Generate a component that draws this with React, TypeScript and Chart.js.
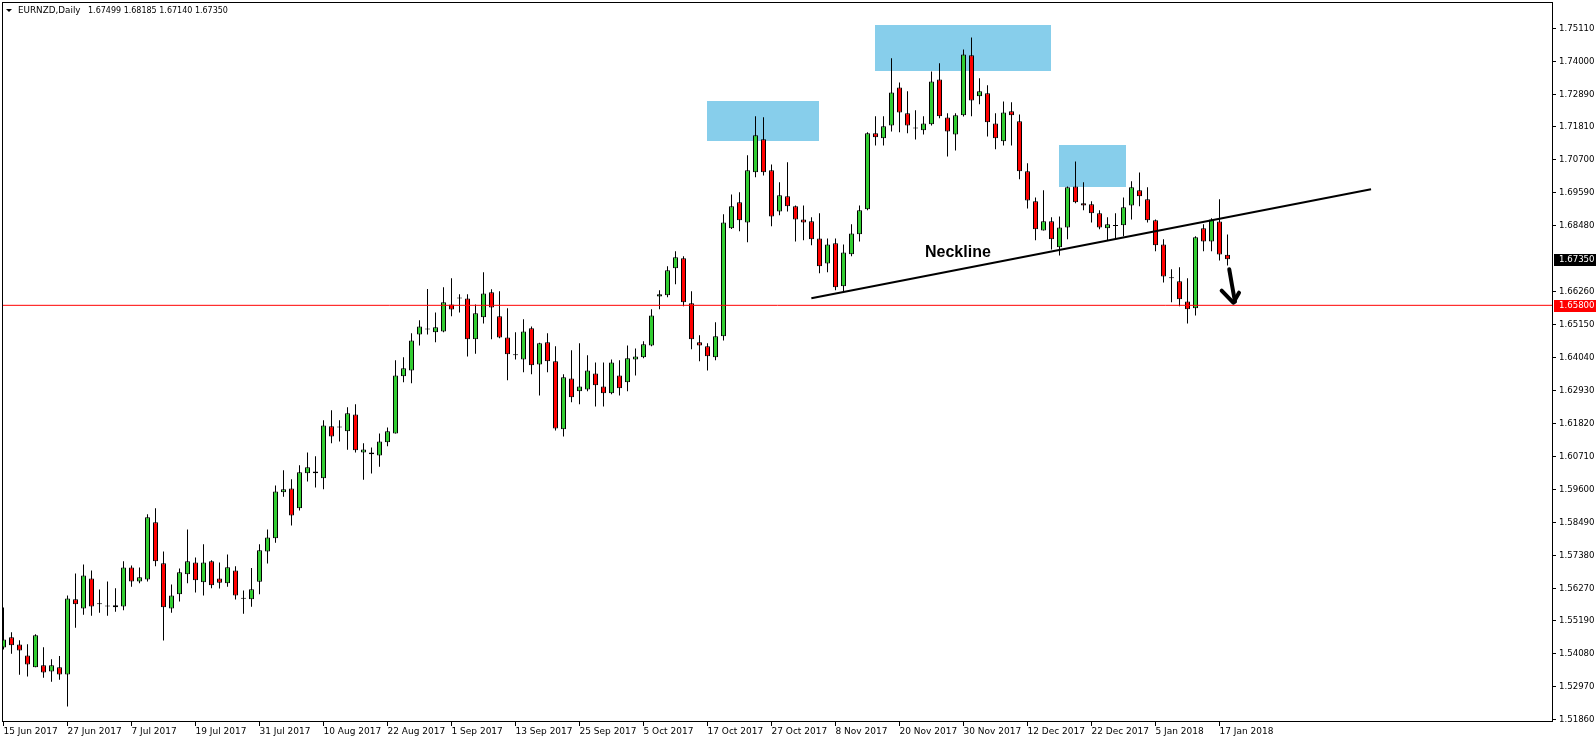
import React, { useEffect, useRef } from 'react';
import { Chart, registerables } from 'chart.js';

Chart.register(...registerables);

const symbolLabel = 'EURNZD,Daily';

const dateTickIndex = [0, 8, 16, 24, 32, 40, 48, 56, 64, 72, 80, 88, 96, 104, 112, 120, 128, 136, 144, 152];
const dateTickLabels = [
  '15 Jun 2017', '27 Jun 2017', '7 Jul 2017', '19 Jul 2017', '31 Jul 2017', '10 Aug 2017', '22 Aug 2017',
  '1 Sep 2017', '13 Sep 2017', '25 Sep 2017', '5 Oct 2017', '17 Oct 2017', '27 Oct 2017', '8 Nov 2017',
  '20 Nov 2017', '30 Nov 2017', '12 Dec 2017', '22 Dec 2017', '5 Jan 2018', '17 Jan 2018',
];

const opens = [
  1.5429, 1.5463, 1.5439, 1.5402, 1.5362, 1.5369, 1.5348, 1.5362, 1.5338, 1.5591,
  1.5560, 1.5661, 1.5575, 1.5567, 1.5564, 1.5567, 1.5698, 1.5651, 1.5658, 1.5850,
  1.5712, 1.5560, 1.5608, 1.5675, 1.5715, 1.5648, 1.5719, 1.5661, 1.5645, 1.5688,
  1.5593, 1.5591, 1.5650, 1.5752, 1.5796, 1.5951, 1.5964, 1.5897, 1.6015, 1.6021,
  1.5998, 1.6173, 1.6169, 1.6156, 1.6213, 1.6085, 1.6085, 1.6075, 1.6119, 1.6149,
  1.6341, 1.6361, 1.6482, 1.6499, 1.6489, 1.6492, 1.6583, 1.6603, 1.6603, 1.6466,
  1.6540, 1.6624, 1.6543, 1.6472, 1.6412, 1.6398, 1.6503, 1.6381, 1.6456, 1.6392,
  1.6163, 1.6334, 1.6291, 1.6297, 1.6351, 1.6307, 1.6284, 1.6344, 1.6321, 1.6398,
  1.6405, 1.6445, 1.6610, 1.6614, 1.6705, 1.6738, 1.6587, 1.6456, 1.6442, 1.6405,
  1.6476, 1.6839, 1.6927, 1.6859, 1.7028, 1.7139, 1.7034, 1.6896, 1.6947, 1.6913,
  1.6869, 1.6863, 1.6805, 1.6721, 1.6789, 1.6644, 1.6752, 1.6819, 1.6903, 1.7159,
  1.7142, 1.7185, 1.7313, 1.7226, 1.7175, 1.7169, 1.7189, 1.7340, 1.7212, 1.7155,
  1.7219, 1.7421, 1.7283, 1.7293, 1.7192, 1.7132, 1.7233, 1.7199, 1.7031, 1.6930,
  1.6832, 1.6863, 1.6775, 1.6842, 1.6980, 1.6923, 1.6920, 1.6890, 1.6839, 1.6847,
  1.6849, 1.6916, 1.6967, 1.6937, 1.6866, 1.6785, 1.6671, 1.6661, 1.6593, 1.6570,
  1.6839, 1.6795, 1.6862, 1.67499,
];

const highs = [
  1.5563, 1.5480, 1.5453, 1.5440, 1.5473, 1.5430, 1.5389, 1.5400, 1.5604, 1.5678,
  1.5708, 1.5688, 1.5624, 1.5651, 1.5628, 1.5719, 1.5705, 1.5698, 1.5877, 1.5897,
  1.5752, 1.5641, 1.5695, 1.5826, 1.5732, 1.5776, 1.5722, 1.5715, 1.5742, 1.5702,
  1.5621, 1.5696, 1.5776, 1.5826, 1.5974, 1.6025, 1.5995, 1.6042, 1.6085, 1.6072,
  1.6193, 1.6227, 1.6193, 1.6237, 1.6247, 1.6116, 1.6102, 1.6149, 1.6169, 1.6395,
  1.6405, 1.6486, 1.6530, 1.6635, 1.6556, 1.6641, 1.6671, 1.6617, 1.6617, 1.6583,
  1.6691, 1.6634, 1.6627, 1.6570, 1.6489, 1.6533, 1.6509, 1.6454, 1.6486, 1.6442,
  1.6348, 1.6429, 1.6452, 1.6412, 1.6388, 1.6388, 1.6398, 1.6395, 1.6445, 1.6435,
  1.6459, 1.6567, 1.6631, 1.6711, 1.6762, 1.6745, 1.6627, 1.6479, 1.6452, 1.6523,
  1.6886, 1.6953, 1.6960, 1.7085, 1.7216, 1.7213, 1.7054, 1.6994, 1.7061, 1.6916,
  1.6916, 1.6876, 1.6890, 1.6805, 1.6805, 1.6785, 1.6853, 1.6916, 1.7162, 1.7216,
  1.7216, 1.7411, 1.7330, 1.7300, 1.7236, 1.7216, 1.7367, 1.7394, 1.7226, 1.7226,
  1.7441, 1.7481, 1.7344, 1.7320, 1.7226, 1.7266, 1.7263, 1.7222, 1.7058, 1.6943,
  1.6967, 1.6876, 1.6879, 1.6980, 1.7064, 1.6994, 1.6930, 1.6900, 1.6876, 1.6890,
  1.6943, 1.6997, 1.7027, 1.6977, 1.6869, 1.6802, 1.6701, 1.6708, 1.6671, 1.6812,
  1.6853, 1.6873, 1.6937, 1.68185,
];

const lows = [
  1.5422, 1.5408, 1.5337, 1.5331, 1.5362, 1.5327, 1.5314, 1.5320, 1.5230, 1.5495,
  1.5539, 1.5536, 1.5546, 1.5536, 1.5549, 1.5554, 1.5633, 1.5645, 1.5651, 1.5702,
  1.5452, 1.5546, 1.5584, 1.5645, 1.5614, 1.5604, 1.5628, 1.5627, 1.5633, 1.5590,
  1.5542, 1.5566, 1.5608, 1.5711, 1.5781, 1.5936, 1.5839, 1.5890, 1.5987, 1.5967,
  1.5961, 1.6116, 1.6122, 1.6094, 1.6085, 1.5993, 1.6014, 1.6037, 1.6106, 1.6149,
  1.6321, 1.6318, 1.6445, 1.6482, 1.6456, 1.6489, 1.6543, 1.6556, 1.6408, 1.6417,
  1.6519, 1.6466, 1.6469, 1.6328, 1.6398, 1.6355, 1.6348, 1.6277, 1.6355, 1.6159,
  1.6139, 1.6254, 1.6247, 1.6291, 1.6240, 1.6240, 1.6281, 1.6277, 1.6291, 1.6344,
  1.6402, 1.6442, 1.6567, 1.6607, 1.6651, 1.6577, 1.6432, 1.6392, 1.6361, 1.6395,
  1.6462, 1.6837, 1.6829, 1.6792, 1.7011, 1.7017, 1.6846, 1.6883, 1.6896, 1.6795,
  1.6799, 1.6782, 1.6688, 1.6691, 1.6631, 1.6627, 1.6745, 1.6795, 1.6900, 1.7118,
  1.7118, 1.7165, 1.7162, 1.7159, 1.7138, 1.7155, 1.7185, 1.7209, 1.7081, 1.7101,
  1.7215, 1.7216, 1.7256, 1.7148, 1.7105, 1.7118, 1.7118, 1.7004, 1.6906, 1.6799,
  1.6832, 1.6768, 1.6748, 1.6802, 1.6923, 1.6900, 1.6859, 1.6836, 1.6799, 1.6802,
  1.6812, 1.6869, 1.6913, 1.6859, 1.6762, 1.6657, 1.6590, 1.6577, 1.6519, 1.6546,
  1.6762, 1.6762, 1.6731, 1.67140,
];

const closes = [
  1.5456, 1.5436, 1.5419, 1.5372, 1.5470, 1.5345, 1.5369, 1.5338, 1.5594, 1.5574,
  1.5671, 1.5567, 1.5574, 1.5567, 1.5571, 1.5698, 1.5651, 1.5665, 1.5867, 1.5719,
  1.5564, 1.5604, 1.5682, 1.5719, 1.5655, 1.5715, 1.5638, 1.5647, 1.5699, 1.5604,
  1.5593, 1.5625, 1.5756, 1.5799, 1.5954, 1.5961, 1.5873, 1.6018, 1.6035, 1.6015,
  1.6176, 1.6139, 1.6169, 1.6217, 1.6092, 1.6095, 1.6079, 1.6122, 1.6156, 1.6344,
  1.6368, 1.6462, 1.6509, 1.6499, 1.6506, 1.6590, 1.6566, 1.6603, 1.6466, 1.6553,
  1.6620, 1.6573, 1.6472, 1.6415, 1.6412, 1.6492, 1.6378, 1.6452, 1.6392, 1.6166,
  1.6338, 1.6271, 1.6307, 1.6361, 1.6311, 1.6284, 1.6388, 1.6301, 1.6402, 1.6408,
  1.6449, 1.6546, 1.6617, 1.6698, 1.6742, 1.6590, 1.6466, 1.6445, 1.6409, 1.6476,
  1.6859, 1.6913, 1.6866, 1.7034, 1.7152, 1.7028, 1.6879, 1.6950, 1.6913, 1.6869,
  1.6859, 1.6802, 1.6711, 1.6785, 1.6641, 1.6758, 1.6822, 1.6900, 1.7159, 1.7145,
  1.7182, 1.7296, 1.7229, 1.7185, 1.7175, 1.7192, 1.7333, 1.7216, 1.7165, 1.7219,
  1.7424, 1.7269, 1.7300, 1.7196, 1.7142, 1.7229, 1.7219, 1.7031, 1.6933, 1.6836,
  1.6863, 1.6802, 1.6842, 1.6977, 1.6927, 1.6916, 1.6890, 1.6842, 1.6853, 1.6847,
  1.6910, 1.6977, 1.6947, 1.6866, 1.6782, 1.6677, 1.6671, 1.6600, 1.6567, 1.6809,
  1.6795, 1.6869, 1.6751, 1.67350,
];

const priceTicks = [
  1.7511, 1.74, 1.7289, 1.7181, 1.707, 1.6959, 1.6848, 1.6626, 1.6515, 1.6404, 1.6293,
  1.6182, 1.6071, 1.596, 1.5849, 1.5738, 1.5627, 1.5519, 1.5408, 1.5297, 1.5186,
];

const supportLevel = 1.658;

// supply zones (bar index / price)
const zoneStart = [87.94, 108.94, 131.94];
const zoneEnd = [101.94, 130.88, 140.31];
const zoneLow = [1.7134, 1.73666, 1.69797];
const zoneHigh = [1.7268, 1.7523, 1.71193];

const necklineX = [100.98, 170.94];
const necklineY = [1.66039, 1.69702];
const necklineLabel = 'Neckline';
const necklineLabelX = 115.19;
const necklineLabelY = 1.67435;

const arrowShaftX = [153.22, 153.56, 153.94];
const arrowShaftY = [1.67011, 1.66483, 1.65921];
const arrowHeadX = [152.27, 153.72, 154.44];
const arrowHeadY = [1.66291, 1.65887, 1.66224];

const xMin = -0.1875;
const xMax = 193.6875;
const yMin = 1.51782;
const yMax = 1.76004;

const FONT = 'Tahoma, "DejaVu Sans", sans-serif';
const AXIS_FONT_SIZE = 8.6;

const overlayPlugin = {
  id: 'mt4Overlay',
  beforeDatasetsDraw(chart: any) {
    const { ctx, chartArea, scales } = chart;
    const x = scales.x;
    const y = scales.y;
    ctx.save();
    ctx.beginPath();
    ctx.rect(chartArea.left, chartArea.top, chartArea.right - chartArea.left, chartArea.bottom - chartArea.top);
    ctx.clip();
    ctx.fillStyle = '#87CEEB';
    for (let i = 0; i < zoneStart.length; i++) {
      const x0 = Math.round(x.getPixelForValue(zoneStart[i]));
      const x1 = Math.round(x.getPixelForValue(zoneEnd[i]));
      const y0 = Math.round(y.getPixelForValue(zoneHigh[i]));
      const y1 = Math.round(y.getPixelForValue(zoneLow[i]));
      ctx.fillRect(x0, y0, x1 - x0, y1 - y0);
    }
    ctx.restore();
  },
  afterDatasetsDraw(chart: any) {
    const { ctx, scales } = chart;
    ctx.save();
    ctx.font = 'bold 16px Arial, "Liberation Sans", sans-serif';
    ctx.fillStyle = '#000000';
    ctx.textAlign = 'left';
    ctx.textBaseline = 'alphabetic';
    ctx.fillText(necklineLabel, scales.x.getPixelForValue(necklineLabelX), scales.y.getPixelForValue(necklineLabelY));
    ctx.restore();
  },
  afterDraw(chart: any) {
    const { ctx, chartArea, scales, width } = chart;
    const y = scales.y;
    ctx.save();
    // frame
    ctx.strokeStyle = '#000000';
    ctx.lineWidth = 1;
    ctx.strokeRect(chartArea.left + 0.5, chartArea.top + 0.5, chartArea.right - chartArea.left - 1, chartArea.bottom - chartArea.top - 1);

    // title
    ctx.fillStyle = '#000000';
    ctx.beginPath();
    ctx.moveTo(chartArea.left + 4, 9);
    ctx.lineTo(chartArea.left + 10, 9);
    ctx.lineTo(chartArea.left + 7, 12);
    ctx.closePath();
    ctx.fill();
    const last = opens.length - 1;
    const ohlc = [opens[last], highs[last], lows[last], closes[last]].map((v) => v.toFixed(5)).join(' ');
    ctx.textBaseline = 'middle';
    ctx.textAlign = 'left';
    ctx.font = '8.8px ' + FONT;
    ctx.fillText(symbolLabel, chartArea.left + 16, 11);
    ctx.font = '8px ' + FONT;
    ctx.fillText(ohlc, chartArea.left + 86, 11);

    // price boxes
    ctx.font = AXIS_FONT_SIZE + 'px ' + FONT;
    const boxes = [
      { v: closes[last], bg: '#000000' },
      { v: supportLevel, bg: '#FF0000' },
    ];
    for (const b of boxes) {
      const py = Math.round(y.getPixelForValue(b.v));
      ctx.fillStyle = b.bg;
      ctx.fillRect(chartArea.right + 1, py - 5, width - chartArea.right - 1, 12);
      ctx.fillStyle = '#FFFFFF';
      ctx.fillText(b.v.toFixed(5), chartArea.right + 6, py + 0.5);
    }
    ctx.restore();
  },
};

export default function App() {
  const ref = useRef<HTMLCanvasElement>(null);

  useEffect(() => {
    document.body.style.margin = '0';
    const canvas = ref.current;
    if (!canvas) return;
    const idx = opens.map((_, i) => i);
    const chart = new Chart(canvas, {
      type: 'bar',
      data: {
        datasets: [
          {
            type: 'bar',
            label: 'wick',
            data: idx.map((i) => ({ x: i, y: [lows[i], highs[i]] })),
            backgroundColor: '#000000',
            borderWidth: 0,
            barThickness: 1,
            grouped: false,
            inflateAmount: 0,
            order: 6,
          },
          {
            type: 'bar',
            label: 'body',
            data: idx.map((i) => ({ x: i, y: [opens[i], closes[i]] })),
            backgroundColor: idx.map((i) => (closes[i] >= opens[i] ? '#32CD32' : '#FF0000')),
            borderColor: '#000000',
            borderWidth: 1,
            borderSkipped: false,
            barThickness: 5,
            minBarLength: 1,
            grouped: false,
            inflateAmount: 0,
            order: 5,
          },
          {
            type: 'line',
            label: 'level',
            data: [{ x: xMin, y: supportLevel }, { x: xMax, y: supportLevel }],
            borderColor: '#FF0000',
            borderWidth: 1,
            pointRadius: 0,
            order: 3,
          },
          {
            type: 'line',
            label: 'neckline',
            data: necklineX.map((v, i) => ({ x: v, y: necklineY[i] })),
            borderColor: '#000000',
            borderWidth: 2,
            pointRadius: 0,
            order: 2,
          },
          {
            type: 'line',
            label: 'arrowShaft',
            data: arrowShaftX.map((v, i) => ({ x: v, y: arrowShaftY[i] })),
            borderColor: '#000000',
            borderWidth: 4,
            borderCapStyle: 'round',
            borderJoinStyle: 'round',
            tension: 0.3,
            pointRadius: 0,
            clip: false,
            order: 1,
          },
          {
            type: 'line',
            label: 'arrowHead',
            data: arrowHeadX.map((v, i) => ({ x: v, y: arrowHeadY[i] })),
            borderColor: '#000000',
            borderWidth: 4,
            borderCapStyle: 'round',
            borderJoinStyle: 'round',
            pointRadius: 0,
            clip: false,
            order: 0,
          },
        ],
      } as any,
      options: {
        responsive: false,
        animation: false,
        devicePixelRatio: 1,
        events: [],
        layout: { padding: { left: 2, top: 2, right: 0, bottom: 0 } },
        plugins: { legend: { display: false }, tooltip: { enabled: false }, title: { display: false } },
        scales: {
          x: {
            type: 'linear',
            position: 'bottom',
            min: xMin,
            max: xMax,
            offset: false,
            bounds: 'data',
            grid: { offset: false, drawOnChartArea: false, drawTicks: true, tickLength: 4, color: '#000000', lineWidth: 1 },
            border: { display: false },
            ticks: {
              autoSkip: false,
              maxRotation: 0,
              minRotation: 0,
              align: 'start',
              padding: 0,
              color: '#000000',
              font: { family: FONT, size: 9 },
              callback: (_v: any, i: number) => dateTickLabels[i] ?? '',
            },
            afterBuildTicks: (s: any) => {
              s.ticks = dateTickIndex.map((v) => ({ value: v }));
            },
            afterFit: (s: any) => {
              s.height = 22;
              s.paddingLeft = 0;
              s.paddingRight = 0;
            },
          },
          y: {
            type: 'linear',
            position: 'right',
            min: yMin,
            max: yMax,
            bounds: 'data',
            grid: { drawOnChartArea: false, drawTicks: true, tickLength: 3, color: '#000000', lineWidth: 1 },
            border: { display: false },
            ticks: {
              autoSkip: false,
              padding: 3,
              color: '#000000',
              font: { family: FONT, size: AXIS_FONT_SIZE },
              callback: (v: any) => Number(v).toFixed(5),
            },
            afterBuildTicks: (s: any) => {
              s.ticks = priceTicks.map((v) => ({ value: v }));
            },
            afterFit: (s: any) => {
              s.width = 43;
              s.paddingTop = 0;
              s.paddingBottom = 0;
            },
          },
        },
      } as any,
      plugins: [overlayPlugin],
    });
    return () => chart.destroy();
  }, []);

  return (
    <div style={{ width: 1596, height: 744, background: '#ffffff' }}>
      <canvas ref={ref} width={1596} height={744} style={{ display: 'block', width: 1596, height: 744 }} />
    </div>
  );
}
